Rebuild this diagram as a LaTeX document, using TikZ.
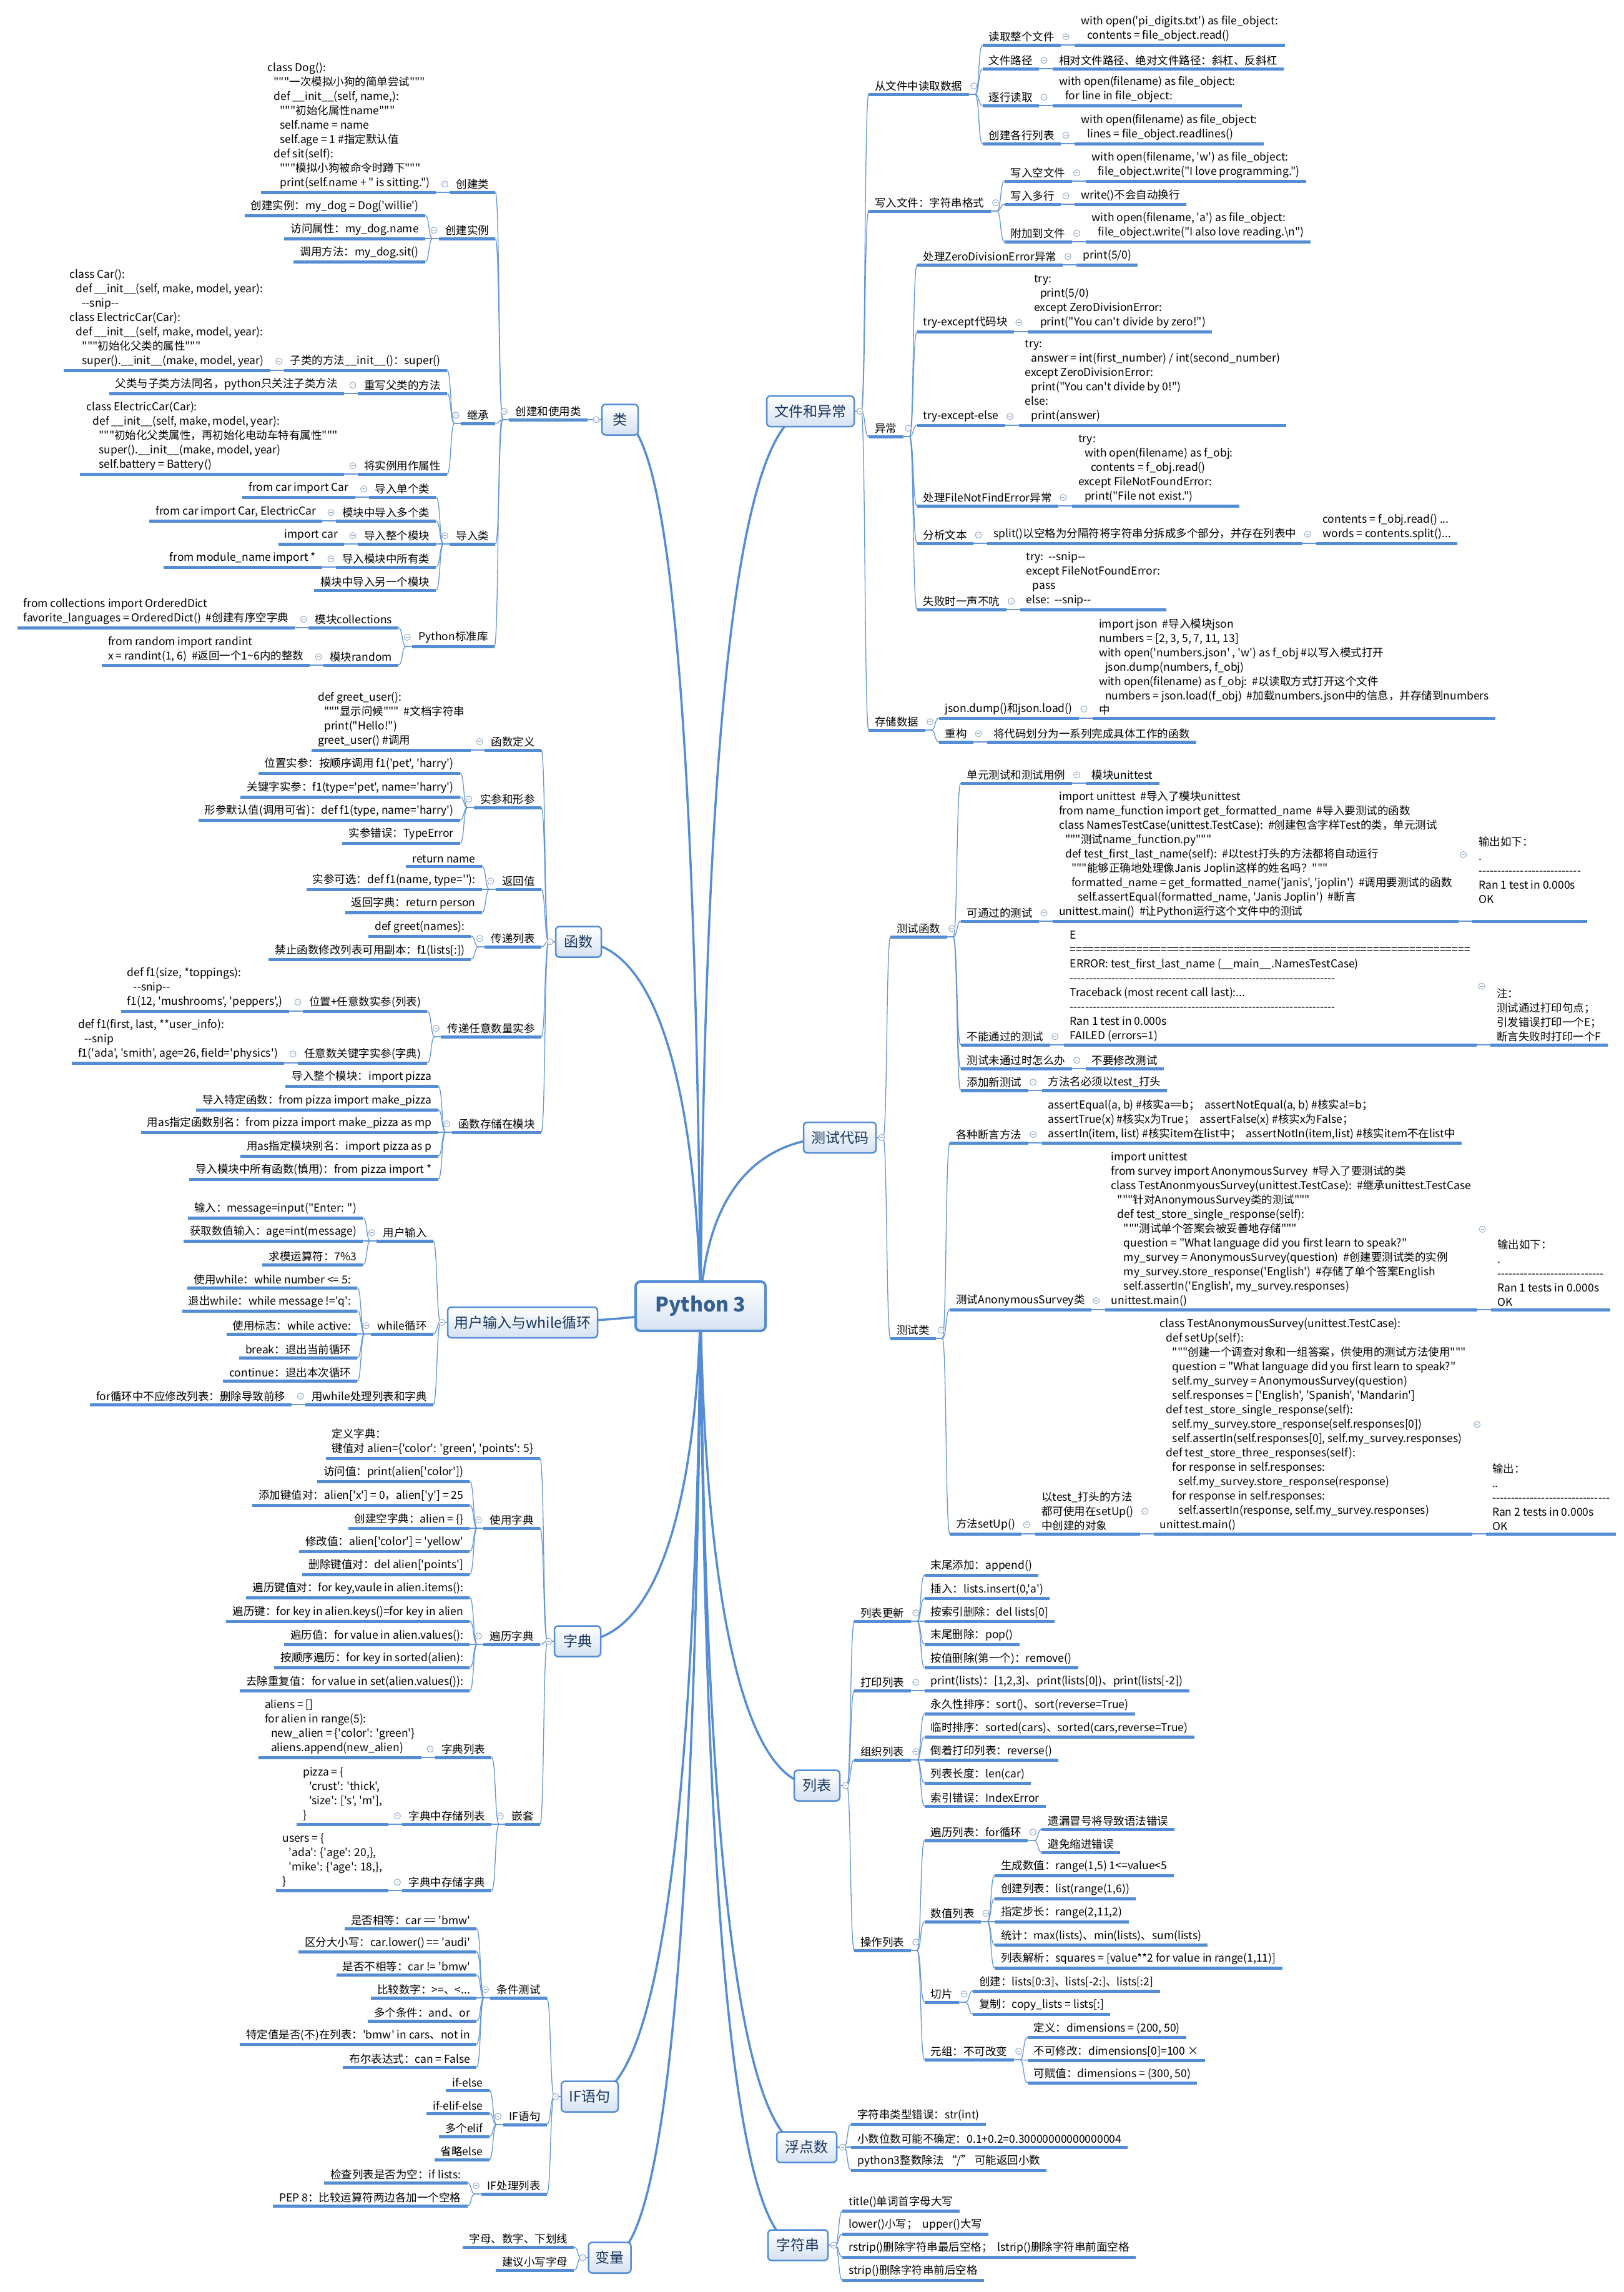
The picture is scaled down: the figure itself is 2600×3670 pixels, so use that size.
\documentclass[tikz,border=0pt]{standalone}
\usepackage{fontspec}
\newfontfamily\mf{Noto Sans CJK SC}
\usetikzlibrary{calc}
\definecolor{ulc}{RGB}{84,141,212}
\definecolor{cnc}{RGB}{100,150,215}
\definecolor{tfill}{RGB}{214,226,242}
\definecolor{ttext}{RGB}{23,54,93}
\definecolor{ctext}{RGB}{54,95,145}
\definecolor{circc}{RGB}{150,170,200}
\tikzset{
 leaf/.style={font=\mf\fontsize{17.5}{23}\selectfont, align=left, inner xsep=10pt, inner ysep=5pt, text=black},
 ul/.style={draw=ulc, line width=5pt},
 conn/.style={draw=cnc, line width=1.3pt},
 mainc/.style={draw=ulc, line width=3.5pt, line cap=round},
 topic/.style={draw=ulc, line width=2.5pt, rounded corners=6pt, top color=white, bottom color=tfill, minimum height=49pt, inner xsep=4pt, font=\mf\fontsize{23}{26}\selectfont, text=ttext},
 circ/.style={draw=circc, line width=1pt, fill=white},
}
\newcommand\I{\hspace*{10pt}}
\newcommand\NL[5][0]{\node[leaf,anchor=south east,xshift={-22pt-#1pt}] (#2) at (#3.south west|-0,#4) {#5};\draw[ul] (#2.south west) -- (#2.south east);}
\newcommand\NR[4]{\node[leaf,anchor=south west,xshift=22pt] (#1) at (#2.south east|-0,#3) {#4};\draw[ul] (#1.south west) -- (#1.south east);}
\newcommand\Cir[1]{\draw[circ] (#1) circle[radius=5pt]; \draw[draw=circc,line width=1pt] ([xshift=-2.6pt]#1) -- ([xshift=2.6pt]#1);}
\newcommand\CL[3][south west]{%
 \foreach \ch in {#3}{%
   \path (\ch.south east) ++(12pt,0) coordinate (q);
   \draw[conn] (#2.#1) -- (q|-#2.#1) to[out=180,in=0,distance=7pt] (\ch.south east);}%
 \path (#2.west) ++(-8pt,0) coordinate (cc); \Cir{cc}}
\newcommand\CR[3][south east]{%
 \foreach \ch in {#3}{%
   \path (\ch.south west) ++(-12pt,0) coordinate (q);
   \draw[conn] (#2.#1) -- (q|-#2.#1) to[out=0,in=180,distance=7pt] (\ch.south west);}%
 \path (#2.east) ++(8pt,0) coordinate (cc); \Cir{cc}}
\begin{document}
\catcode`\_=12
\begin{tikzpicture}[x=1pt,y=-1pt]
\fill[white] (0,0) rectangle (2600,3670);
\useasboundingbox (0,0) rectangle (2600,3670);
% ---------- main connectors
\draw[mainc] (1122,2092) .. controls (1117,1453) and (1092,672) .. (993,672);
\draw[mainc] (1122,2092) .. controls (1117,1829) and (1074,1508) .. (926,1508);
\draw[mainc] (1122,2092) .. controls (1070,2102) and (1000,2117) .. (837,2117);
\draw[mainc] (1122,2092) .. controls (1117,2333) and (1074,2628) .. (925,2628);
\draw[mainc] (1122,2092) .. controls (1117,2661) and (1082,3357) .. (944,3357);
\draw[mainc] (1122,2092) .. controls (1117,2777) and (1088,3615) .. (976,3615);
\draw[mainc] (1122,2092) .. controls (1127,1447) and (1154,658) .. (1298,658);
\draw[mainc] (1122,2092) .. controls (1127,1970) and (1172,1821) .. (1345,1821);
\draw[mainc] (1122,2092) .. controls (1127,2437) and (1167,2859) .. (1308,2859);
\draw[mainc] (1122,2092) .. controls (1127,2698) and (1159,3438) .. (1292,3438);
\draw[mainc] (1122,2092) .. controls (1127,2768) and (1154,3595) .. (1278,3595);
% ---------- boxes
\node[draw=ulc, line width=4pt, rounded corners=8pt, top color=white, bottom color=tfill, minimum width=208pt, minimum height=79pt, font=\mf\bfseries\fontsize{32}{36}\selectfont, text=ctext] (C0) at (1122,2091.5) {Python 3};
\node[topic,minimum width=58pt] (T1) at (993,672) {类};
\node[topic,minimum width=73pt] (T2) at (926.5,1508) {函数};
\node[topic,minimum width=240pt] (T3) at (837,2117.5) {用户输入与while循环};
\node[topic,minimum width=74pt] (T4) at (925,2628) {字典};
\node[topic,minimum width=91pt] (T5) at (944.5,3357) {IF语句};
\node[topic,minimum width=68pt] (T6) at (976.5,3615) {变量};
\node[topic,minimum width=140pt] (R1) at (1298,658.5) {文件和异常};
\node[topic,minimum width=116pt] (R2) at (1345,1821.5) {测试代码};
\node[topic,minimum width=73pt] (R3) at (1308.5,2859) {列表};
\node[topic,minimum width=96pt] (R4) at (1292,3438) {浮点数};
\node[topic,minimum width=96pt] (R5) at (1278,3595) {字符串};
% ================= LEFT: 类
\NL{a1}{T1}{672}{创建和使用类}
\NL[149]{a2}{T1}{1035}{Python标准库}
\NL{a11}{a1}{308}{创建类}
\NL{a12}{a1}{382}{创建实例}
\NL{a13}{a1}{678}{继承}
\NL{a14}{a1}{871}{导入类}
\NL{a111}{a11}{308}{class Dog():\\ \I"""一次模拟小狗的简单尝试"""\\ \I def __init__(self, name,):\\ \I\I"""初始化属性name"""\\ \I\I self.name = name\\ \I\I self.age = 1 \#指定默认值\\ \I def sit(self):\\ \I\I"""模拟小狗被命令时蹲下"""\\ \I\I print(self.name + " is sitting.")}
\NL{a121}{a12}{345}{创建实例：my_dog = Dog('willie')}
\NL{a122}{a12}{382}{访问属性：my_dog.name}
\NL{a123}{a12}{419}{调用方法：my_dog.sit()}
\NL{a131}{a13}{593}{子类的方法__init__()：super()}
\NL{a132}{a13}{630}{重写父类的方法}
\NL{a133}{a13}{759}{将实例用作属性}
\NL{a1311}{a131}{593}{class Car():\\ \I def __init__(self, make, model, year):\\ \I\I --snip--\\class ElectricCar(Car):\\ \I def __init__(self, make, model, year):\\ \I\I"""初始化父类的属性"""\\ \I\I super().__init__(make, model, year)}
\NL{a1321}{a132}{630}{父类与子类方法同名，python只关注子类方法}
\NL{a1331}{a133}{759}{class ElectricCar(Car):\\ \I def __init__(self, make, model, year):\\ \I\I"""初始化父类属性，再初始化电动车特有属性"""\\ \I\I super().__init__(make, model, year)\\ \I\I self.battery = Battery()}
\NL{a141}{a14}{796}{导入单个类}
\NL{a142}{a14}{834}{模块中导入多个类}
\NL{a143}{a14}{871}{导入整个模块}
\NL{a144}{a14}{908}{导入模块中所有类}
\NL{a145}{a14}{945}{模块中导入另一个模块}
\NL{a1411}{a141}{796}{from car import Car}
\NL{a1421}{a142}{834}{from car import Car, ElectricCar}
\NL{a1431}{a143}{871}{import car}
\NL{a1441}{a144}{908}{from module_name import *}
\NL{a21}{a2}{1005}{模块collections}
\NL{a22}{a2}{1065}{模块random}
\NL{a211}{a21}{1005}{from collections import OrderedDict\\favorite_languages = OrderedDict()\ \ \#创建有序空字典}
\NL{a221}{a22}{1065}{from random import randint\\x = randint(1, 6)\ \ \#返回一个1\textasciitilde 6内的整数}
\CL[west]{T1}{a1,a2}
\CL{a1}{a11,a12,a13,a14}
\CL{a11}{a111}
\CL{a12}{a121,a122,a123}
\CL{a13}{a131,a132,a133}
\CL{a131}{a1311}
\CL{a132}{a1321}
\CL{a133}{a1331}
\CL{a14}{a141,a142,a143,a144,a145}
\CL{a141}{a1411}
\CL{a142}{a1421}
\CL{a143}{a1431}
\CL{a144}{a1441}
\CL{a2}{a21,a22}
\CL{a21}{a211}
\CL{a22}{a221}
% ================= LEFT: 函数
\NL{b1}{T2}{1201}{函数定义}
\NL{b2}{T2}{1293}{实参和形参}
\NL{b3}{T2}{1424}{返回值}
\NL{b4}{T2}{1516}{传递列表}
\NL{b5}{T2}{1660}{传递任意数量实参}
\NL{b6}{T2}{1813}{函数存储在模块}
\NL{b11}{b1}{1201}{def greet_user():\\ \I"""显示问候"""\ \ \#文档字符串\\ \I print("Hello!")\\greet_user() \#调用}
\NL{b21}{b2}{1238}{位置实参：按顺序调用 f1('pet', 'harry')}
\NL{b22}{b2}{1276}{关键字实参：f1(type='pet', name='harry')}
\NL{b23}{b2}{1313}{形参默认值(调用可省)：def f1(type, name='harry')}
\NL{b24}{b2}{1350}{实参错误：TypeError}
\NL{b31}{b3}{1387}{return name}
\NL{b32}{b3}{1424}{实参可选：def f1(name, type=''):}
\NL{b33}{b3}{1461}{返回字典：return person}
\NL{b41}{b4}{1499}{def greet(names):}
\NL{b42}{b4}{1536}{禁止函数修改列表可用副本：f1(lists[:])}
\NL{b51}{b5}{1619}{位置+任意数实参(列表)}
\NL{b52}{b5}{1702}{任意数关键字实参(字典)}
\NL{b511}{b51}{1619}{def f1(size, *toppings):\\ \I --snip--\\f1(12, 'mushrooms', 'peppers',)}
\NL{b521}{b52}{1702}{def f1(first, last, **user_info):\\ \I --snip\\f1('ada', 'smith', age=26, field='physics')}
\NL{b61}{b6}{1739}{导入整个模块：import pizza}
\NL{b62}{b6}{1777}{导入特定函数：from pizza import make_pizza}
\NL{b63}{b6}{1813}{用as指定函数别名：from pizza import make_pizza as mp}
\NL{b64}{b6}{1851}{用as指定模块别名：import pizza as p}
\NL{b65}{b6}{1888}{导入模块中所有函数(慎用)：from pizza import *}
\CL[west]{T2}{b1,b2,b3,b4,b5,b6}
\CL{b1}{b11}
\CL{b2}{b21,b22,b23,b24}
\CL{b3}{b31,b32,b33}
\CL{b4}{b41,b42}
\CL{b5}{b51,b52}
\CL{b51}{b511}
\CL{b52}{b521}
\CL{b6}{b61,b62,b63,b64,b65}
% ================= LEFT: 用户输入与while循环
\NL{c1}{T3}{1987}{用户输入}
\NL{c2}{T3}{2136}{while循环}
\NL{c3}{T3}{2249}{用while处理列表和字典}
\NL{c11}{c1}{1950}{输入：message=input("Enter: ")}
\NL{c12}{c1}{1987}{获取数值输入：age=int(message)}
\NL{c13}{c1}{2025}{求模运算符：7\%3}
\NL{c21}{c2}{2062}{使用while：while number <= 5:}
\NL{c22}{c2}{2099}{退出while：while message !='q':}
\NL{c23}{c2}{2136}{使用标志：while active:}
\NL{c24}{c2}{2174}{break：退出当前循环}
\NL{c25}{c2}{2211}{continue：退出本次循环}
\NL{c31}{c3}{2249}{for循环中不应修改列表：删除导致前移}
\CL[west]{T3}{c1,c2,c3}
\CL{c1}{c11,c12,c13}
\CL{c2}{c21,c22,c23,c24,c25}
\CL{c3}{c31}
% ================= LEFT: 字典
\NL{d0}{T4}{2335}{定义字典：\\键值对 alien=\{'color': 'green', 'points': 5\}}
\NL{d1}{T4}{2447}{使用字典}
\NL{d2}{T4}{2633}{遍历字典}
\NL{d3}{T4}{2921}{嵌套}
\NL{d11}{d1}{2372}{访问值：print(alien['color'])}
\NL{d12}{d1}{2410}{添加键值对：alien['x'] = 0，alien['y'] = 25}
\NL{d13}{d1}{2447}{创建空字典：alien = \{\}}
\NL{d14}{d1}{2484}{修改值：alien['color'] = 'yellow'}
\NL{d15}{d1}{2521}{删除键值对：del alien['points']}
\NL{d21}{d2}{2558}{遍历键值对：for key,vaule in alien.items():}
\NL{d22}{d2}{2596}{遍历键：for key in alien.keys()=for key in alien}
\NL{d23}{d2}{2633}{遍历值：for value in alien.values():}
\NL{d24}{d2}{2670}{按顺序遍历：for key in sorted(alien):}
\NL{d25}{d2}{2707}{去除重复值：for value in set(alien.values()):}
\NL{d31}{d3}{2814}{字典列表}
\NL{d32}{d3}{2921}{字典中存储列表}
\NL{d33}{d3}{3027}{字典中存储字典}
\NL{d311}{d31}{2814}{aliens = []\\for alien in range(5):\\ \I new_alien = \{'color': 'green'\}\\ \I aliens.append(new_alien)}
\NL{d321}{d32}{2921}{pizza = \{\\ \I 'crust': 'thick',\\ \I 'size': ['s', 'm'],\\\}}
\NL{d331}{d33}{3027}{users = \{\\ \I 'ada': \{'age': 20,\},\\ \I 'mike': \{'age': 18,\},\\\}}
\CL[west]{T4}{d0,d1,d2,d3}
\CL{d1}{d11,d12,d13,d14,d15}
\CL{d2}{d21,d22,d23,d24,d25}
\CL{d3}{d31,d32,d33}
\CL{d31}{d311}
\CL{d32}{d321}
\CL{d33}{d331}
% ================= LEFT: IF语句
\NL{e1}{T5}{3199}{条件测试}
\NL{e2}{T5}{3402}{IF语句}
\NL{e3}{T5}{3513}{IF处理列表}
\NL{e11}{e1}{3088}{是否相等：car == 'bmw'}
\NL{e12}{e1}{3125}{区分大小写：car.lower() == 'audi'}
\NL{e13}{e1}{3162}{是否不相等：car != 'bmw'}
\NL{e14}{e1}{3199}{比较数字：>=、<...}
\NL{e15}{e1}{3236}{多个条件：and、or}
\NL{e16}{e1}{3273}{特定值是否(不)在列表：'bmw' in cars、not in}
\NL{e17}{e1}{3310}{布尔表达式：can = False}
\NL{e21}{e2}{3347}{if-else}
\NL{e22}{e2}{3384}{if-elif-else}
\NL{e23}{e2}{3421}{多个elif}
\NL{e24}{e2}{3458}{省略else}
\NL{e31}{e3}{3495}{检查列表是否为空：if lists:}
\NL{e32}{e3}{3532}{PEP 8：比较运算符两边各加一个空格}
\CL[west]{T5}{e1,e2,e3}
\CL{e1}{e11,e12,e13,e14,e15,e16,e17}
\CL{e2}{e21,e22,e23,e24}
\CL{e3}{e31,e32}
% ================= LEFT: 变量
\NL{f1}{T6}{3598}{字母、数字、下划线}
\NL{f2}{T6}{3635}{建议小写字母}
\CL[west]{T6}{f1,f2}
% ================= RIGHT: 文件和异常
\NR{g1}{R1}{151}{从文件中读取数据}
\NR{g2}{R1}{338}{写入文件：字符串格式}
\NR{g3}{R1}{699}{异常}
\NR{g4}{R1}{1169}{存储数据}
\NR{g11}{g1}{72}{读取整个文件}
\NR{g12}{g1}{110}{文件路径}
\NR{g13}{g1}{169}{逐行读取}
\NR{g14}{g1}{230}{创建各行列表}
\NR{g111}{g11}{72}{with open('pi_digits.txt') as file_object:\\ \I contents = file_object.read()}
\NR{g121}{g12}{110}{相对文件路径、绝对文件路径：斜杠、反斜杠}
\NR{g131}{g13}{169}{with open(filename) as file_object:\\ \I for line in file_object:}
\NR{g141}{g14}{230}{with open(filename) as file_object:\\ \I lines = file_object.readlines()}
\NR{g21}{g2}{290}{写入空文件}
\NR{g22}{g2}{327}{写入多行}
\NR{g23}{g2}{387}{附加到文件}
\NR{g211}{g21}{290}{with open(filename, 'w') as file_object:\\ \I file_object.write("I love programming.")}
\NR{g221}{g22}{327}{write()不会自动换行}
\NR{g231}{g23}{387}{with open(filename, 'a') as file_object:\\ \I file_object.write("I also love reading.\textbackslash n")}
\NR{g31}{g3}{424}{处理ZeroDivisionError异常}
\NR{g32}{g3}{531}{try-except代码块}
\NR{g33}{g3}{681}{try-except-else}
\NR{g34}{g3}{810}{处理FileNotFindError异常}
\NR{g35}{g3}{870}{分析文本}
\NR{g36}{g3}{976}{失败时一声不吭}
\NR{g311}{g31}{424}{print(5/0)}
\NR{g321}{g32}{531}{try:\\ \I print(5/0)\\except ZeroDivisionError:\\ \I print("You can't divide by zero!")}
\NR{g331}{g33}{681}{try:\\ \I answer = int(first_number) / int(second_number)\\except ZeroDivisionError:\\ \I print("You can't divide by 0!")\\else:\\ \I print(answer)}
\NR{g341}{g34}{810}{try:\\ \I with open(filename) as f_obj:\\ \I\I contents = f_obj.read()\\except FileNotFoundError:\\ \I print("File not exist.")}
\NR{g351}{g35}{870}{split()以空格为分隔符将字符串分拆成多个部分，并存在列表中}
\NR{g3511}{g351}{870}{contents = f_obj.read() ...\\words = contents.split()...}
\NR{g361}{g36}{976}{try:\ \ --snip--\\except FileNotFoundError:\\ \I pass\\else:\ \ --snip--}
\NR{g41}{g4}{1150}{json.dump()和json.load()}
\NR{g42}{g4}{1188}{重构}
\NR{g411}{g41}{1150}{import json\ \ \#导入模块json\\numbers = [2, 3, 5, 7, 11, 13]\\with open('numbers.json' , 'w') as f_obj \#以写入模式打开\\ \I json.dump(numbers, f_obj)\\with open(filename) as f_obj:\ \ \#以读取方式打开这个文件\\ \I numbers = json.load(f_obj)\ \ \#加载numbers.json中的信息，并存储到numbers\\中}
\NR{g421}{g42}{1188}{将代码划分为一系列完成具体工作的函数}
\CR[east]{R1}{g1,g2,g3,g4}
\CR{g1}{g11,g12,g13,g14}
\CR{g11}{g111}
\CR{g12}{g121}
\CR{g13}{g131}
\CR{g14}{g141}
\CR{g2}{g21,g22,g23}
\CR{g21}{g211}
\CR{g22}{g221}
\CR{g23}{g231}
\CR{g3}{g31,g32,g33,g34,g35,g36}
\CR{g31}{g311}
\CR{g32}{g321}
\CR{g33}{g331}
\CR{g34}{g341}
\CR{g35}{g351}
\CR{g351}{g3511}
\CR{g36}{g361}
\CR{g4}{g41,g42}
\CR{g41}{g411}
\CR{g42}{g421}
% ================= RIGHT: 测试代码
\NR{h1}{R2}{1500}{测试函数}
\NR{h2}{R2}{2143}{测试类}
\NR{h11}{h1}{1254}{单元测试和测试用例}
\NR{h12}{h1}{1475}{可通过的测试}
\NR{h13}{h1}{1673}{不能通过的测试}
\NR{h14}{h1}{1711}{测试未通过时怎么办}
\NR{h15}{h1}{1746}{添加新测试}
\NR{h111}{h11}{1254}{模块unittest}
\NR{h121}{h12}{1475}{import unittest\ \ \#导入了模块unittest\\from name_function import get_formatted_name\ \ \#导入要测试的函数\\class NamesTestCase(unittest.TestCase):\ \ \#创建包含字样Test的类，单元测试\\ \I"""测试name_function.py"""\\ \I def test_first_last_name(self):\ \ \#以test打头的方法都将自动运行\\ \I\I"""能够正确地处理像Janis Joplin这样的姓名吗？"""\\ \I\I formatted_name = get_formatted_name('janis', 'joplin')\ \ \#调用要测试的函数\\ \I\I\I self.assertEqual(formatted_name, 'Janis Joplin')\ \ \#断言\\unittest.main()\ \ \#让Python运行这个文件中的测试}
\NR{h1211}{h121}{1475}{输出如下：\\.\\---------------------------\\Ran 1 test in 0.000s\\OK\\\mbox{}}
\NR{h131}{h13}{1673}{E\\==================================================================\\ERROR: test_first_last_name (__main__.NamesTestCase)\\----------------------------------------------------------------------\\Traceback (most recent call last):...\\----------------------------------------------------------------------\\Ran 1 test in 0.000s\\FAILED (errors=1)}
\NR{h1311}{h131}{1673}{注：\\测试通过打印句点；\\引发错误打印一个E；\\断言失败时打印一个F}
\NR{h141}{h14}{1711}{不要修改测试}
\NR{h151}{h15}{1746}{方法名必须以test_打头}
\NR{h21}{h2}{1830}{各种断言方法}
\NR{h22}{h2}{2097}{测试AnonymousSurvey类}
\NR{h23}{h2}{2456}{方法setUp()}
\NR{h211}{h21}{1830}{assertEqual(a, b) \#核实a==b；\ \ assertNotEqual(a, b) \#核实a!=b；\\assertTrue(x) \#核实x为True；\ \ assertFalse(x) \#核实x为False；\\assertIn(item, list) \#核实item在list中；\ \ assertNotIn(item,list) \#核实item不在list中}
\NR{h221}{h22}{2097}{import unittest\\from survey import AnonymousSurvey\ \ \#导入了要测试的类\\class TestAnonmyousSurvey(unittest.TestCase):\ \ \#继承unittest.TestCase\\ \I"""针对AnonymousSurvey类的测试"""\\ \I def test_store_single_response(self):\\ \I\I"""测试单个答案会被妥善地存储"""\\ \I\I question = "What language did you first learn to speak?"\\ \I\I my_survey = AnonymousSurvey(question)\ \ \#创建要测试类的实例\\ \I\I my_survey.store_response('English')\ \ \#存储了单个答案English\\ \I\I self.assertIn('English', my_survey.responses)\\unittest.main()}
\NR{h2211}{h221}{2097}{输出如下：\\.\\----------------------------\\Ran 1 tests in 0.000s\\OK}
\NR{h231}{h23}{2456}{以test_打头的方法\\都可使用在setUp()\\中创建的对象}
\NR{h2311}{h231}{2456}{class TestAnonymousSurvey(unittest.TestCase):\\ \I def setUp(self):\\ \I\I"""创建一个调查对象和一组答案，供使用的测试方法使用"""\\ \I\I question = "What language did you first learn to speak?"\\ \I\I self.my_survey = AnonymousSurvey(question)\\ \I\I self.responses = ['English', 'Spanish', 'Mandarin']\\ \I def test_store_single_response(self):\\ \I\I self.my_survey.store_response(self.responses[0])\\ \I\I self.assertIn(self.responses[0], self.my_survey.responses)\\ \I def test_store_three_responses(self):\\ \I\I for response in self.responses:\\ \I\I\I self.my_survey.store_response(response)\\ \I\I for response in self.responses:\\ \I\I\I self.assertIn(response, self.my_survey.responses)\\unittest.main()}
\NR{h23111}{h2311}{2456}{输出：\\..\\-------------------------------\\Ran 2 tests in 0.000s\\OK}
\CR[east]{R2}{h1,h2}
\CR{h1}{h11,h12,h13,h14,h15}
\CR{h11}{h111}
\CR{h12}{h121}
\CR{h121}{h1211}
\CR{h13}{h131}
\CR{h131}{h1311}
\CR{h14}{h141}
\CR{h15}{h151}
\CR{h2}{h21,h22,h23}
\CR{h21}{h211}
\CR{h22}{h221}
\CR{h221}{h2211}
\CR{h23}{h231}
\CR{h231}{h2311}
\CR{h2311}{h23111}
% ================= RIGHT: 列表
\NR{i1}{R3}{2596}{列表更新}
\NR{i2}{R3}{2707}{打印列表}
\NR{i3}{R3}{2818}{组织列表}
\NR{i4}{R3}{3123}{操作列表}
\NR{i11}{i1}{2522}{末尾添加：append()}
\NR{i12}{i1}{2559}{插入：lists.insert(0,'a')}
\NR{i13}{i1}{2596}{按索引删除：del lists[0]}
\NR{i14}{i1}{2633}{末尾删除：pop()}
\NR{i15}{i1}{2670}{按值删除(第一个)：remove()}
\NR{i21}{i2}{2707}{print(lists)：[1,2,3]、print(lists[0])、print(lists[-2])}
\NR{i31}{i3}{2744}{永久性排序：sort()、sort(reverse=True)}
\NR{i32}{i3}{2781}{临时排序：sorted(cars)、sorted(cars,reverse=True)}
\NR{i33}{i3}{2818}{倒着打印列表：reverse()}
\NR{i34}{i3}{2855}{列表长度：len(car)}
\NR{i35}{i3}{2892}{索引错误：IndexError}
\NR{i41}{i4}{2947}{遍历列表：for循环}
\NR{i42}{i4}{3077}{数值列表}
\NR{i43}{i4}{3206}{切片}
\NR{i44}{i4}{3298}{元组：不可改变}
\NR{i411}{i41}{2929}{遗漏冒号将导致语法错误}
\NR{i412}{i41}{2966}{避免缩进错误}
\NR{i421}{i42}{3003}{生成数值：range(1,5) 1<=value<5}
\NR{i422}{i42}{3040}{创建列表：list(range(1,6))}
\NR{i423}{i42}{3077}{指定步长：range(2,11,2)}
\NR{i424}{i42}{3114}{统计：max(lists)、min(lists)、sum(lists)}
\NR{i425}{i42}{3151}{列表解析：squares = [value**2 for value in range(1,11)]}
\NR{i431}{i43}{3188}{创建：lists[0:3]、lists[-2:]、lists[:2]}
\NR{i432}{i43}{3225}{复制：copy_lists = lists[:]}
\NR{i441}{i44}{3262}{定义：dimensions = (200, 50)}
\NR{i442}{i44}{3299}{不可修改：dimensions[0]=100 ×}
\NR{i443}{i44}{3335}{可赋值：dimensions = (300, 50)}
\CR[east]{R3}{i1,i2,i3,i4}
\CR{i1}{i11,i12,i13,i14,i15}
\CR{i2}{i21}
\CR{i3}{i31,i32,i33,i34,i35}
\CR{i4}{i41,i42,i43,i44}
\CR{i41}{i411,i412}
\CR{i42}{i421,i422,i423,i424,i425}
\CR{i43}{i431,i432}
\CR{i44}{i441,i442,i443}
% ================= RIGHT: 浮点数, 字符串
\NR{j1}{R4}{3401}{字符串类型错误：str(int)}
\NR{j2}{R4}{3438}{小数位数可能不确定：0.1+0.2=0.30000000000000004}
\NR{j3}{R4}{3475}{python3整数除法 “/” 可能返回小数}
\CR[east]{R4}{j1,j2,j3}
\NR{k1}{R5}{3540}{title()单词首字母大写}
\NR{k2}{R5}{3577}{lower()小写；\ \ upper()大写}
\NR{k3}{R5}{3614}{rstrip()删除字符串最后空格；\ \ lstrip()删除字符串前面空格}
\NR{k4}{R5}{3651}{strip()删除字符串前后空格}
\CR[east]{R5}{k1,k2,k3,k4}
\end{tikzpicture}
\end{document}
